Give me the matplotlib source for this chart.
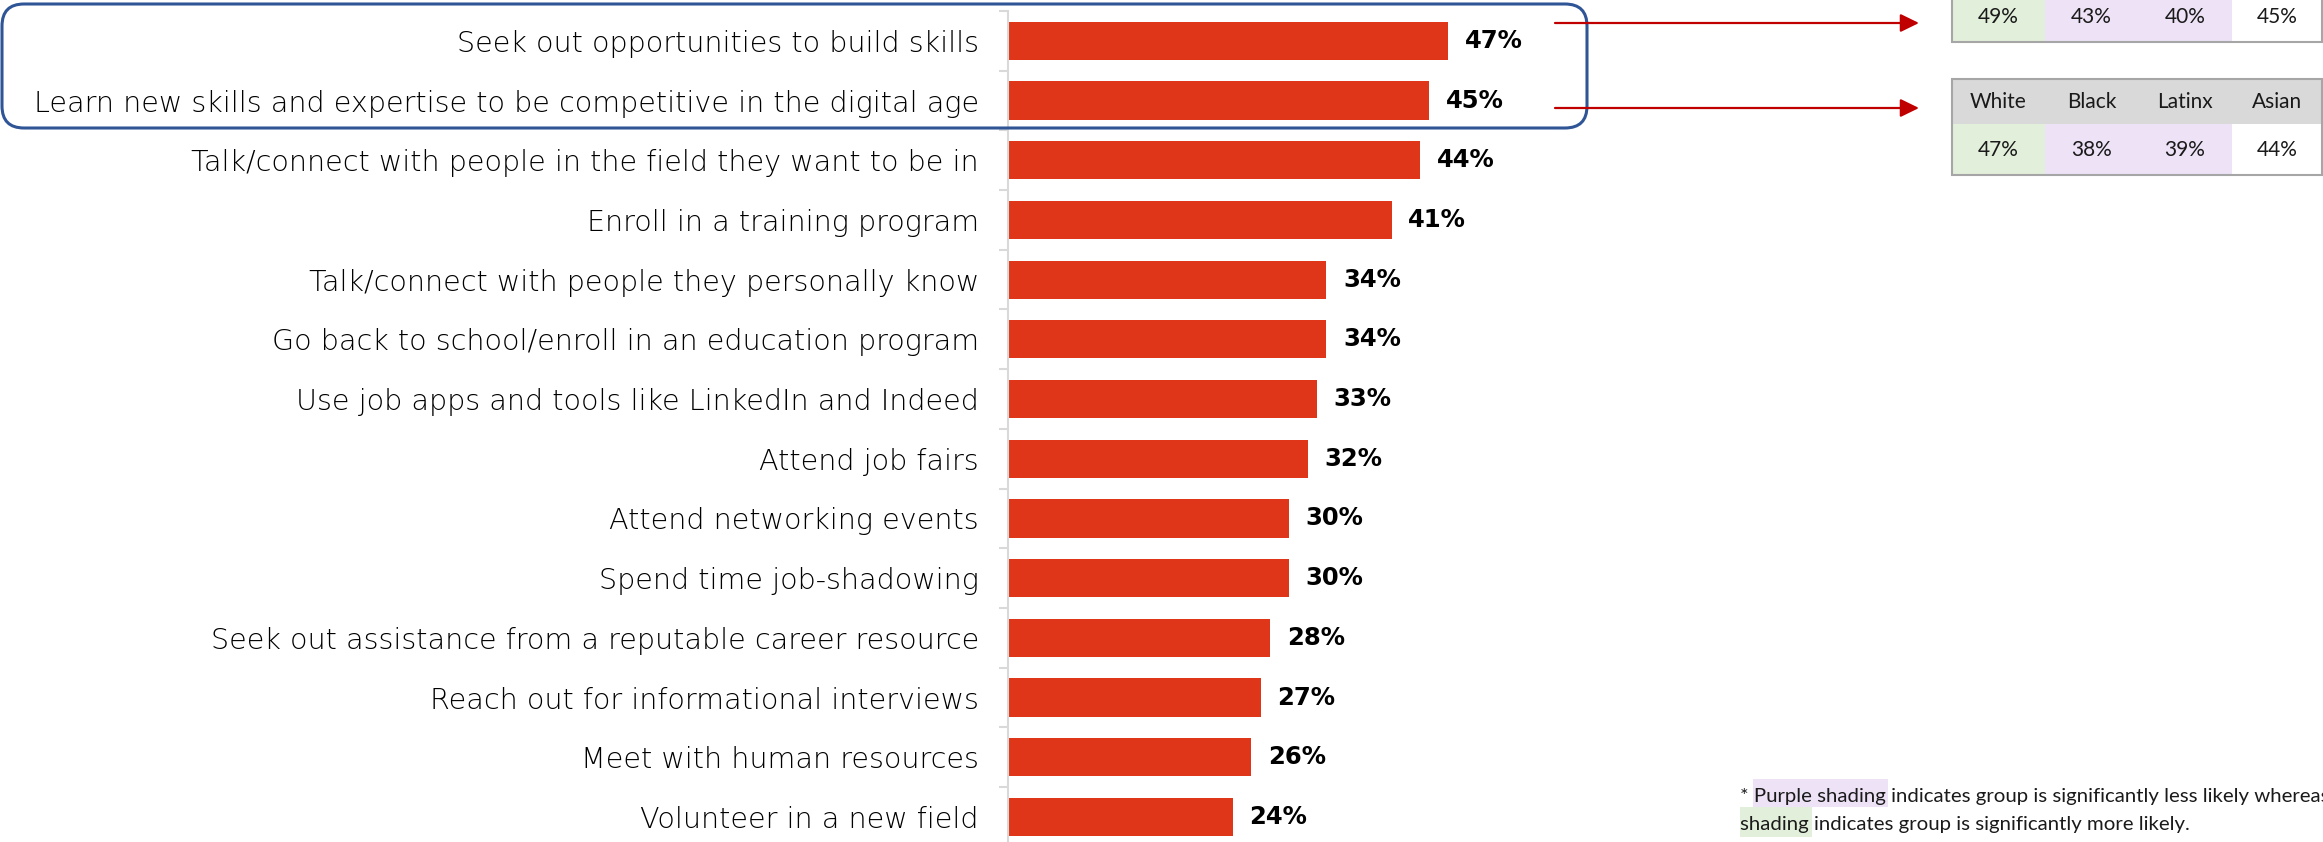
import matplotlib
matplotlib.use("Agg")
import matplotlib.pyplot as plt
from matplotlib.patches import FancyBboxPatch, Rectangle

# ---- data ----
actions = [
    "Seek out opportunities to build skills",
    "Learn new skills and expertise to be competitive in the digital age",
    "Talk/connect with people in the field they want to be in",
    "Enroll in a training program",
    "Talk/connect with people they personally know",
    "Go back to school/enroll in an education program",
    "Use job apps and tools like LinkedIn and Indeed",
    "Attend job fairs",
    "Attend networking events",
    "Spend time job-shadowing",
    "Seek out assistance from a reputable career resource",
    "Reach out for informational interviews",
    "Meet with human resources",
    "Volunteer in a new field",
]
shares = [47, 45, 44, 41, 34, 34, 33, 32, 30, 30, 28, 27, 26, 24]

groups = ["White", "Black", "Latinx", "Asian"]
skills_by_group = [49, 43, 40, 45]
digital_by_group = [47, 38, 39, 44]
group_signif = ["more", "less", "less", "none"]

# ---- style ----
BAR = "#DF361A"
AXIS_GRAY = "#D9D9D9"
TXT = "#1a1a1a"
SHADE = {"more": "#E2EFDA", "less": "#EDE2F6", "none": "#FFFFFF"}
HEAD = "#D9D9D9"
BORDER = "#A6A6A6"

W, H = 2323, 842
fig = plt.figure(figsize=(W / 100, H / 100), dpi=100)

# bar chart axes
ax = fig.add_axes([1008 / W, 0, 468 / W, 831 / H])
y = list(range(len(actions)))
ax.barh(y, shares, height=0.64, color=BAR, zorder=2)
ax.set_xlim(0, 50)
ax.set_ylim(13.42, -0.5)
ax.set_yticks(y)
ax.set_yticklabels(actions, fontsize=20.6, family="DejaVu Sans", fontweight="light",
                   color="#000000")
ax.set_yticks([i - 0.5 for i in range(len(actions))], minor=True)
ax.tick_params(axis="y", which="major", length=0, pad=21)
ax.tick_params(axis="y", which="minor", length=6.5, width=1.5, color=AXIS_GRAY, direction="out")
ax.set_xticks([])
for s in ["top", "right", "bottom"]:
    ax.spines[s].set_visible(False)
ax.spines["left"].set_color(AXIS_GRAY)
ax.spines["left"].set_linewidth(1.5)
ax.patch.set_alpha(0)

for yi, v in zip(y, shares):
    ax.annotate(f"{v}%", xy=(v, yi), xytext=(12, 0), textcoords="offset points",
                ha="left", va="center", fontsize=17.5, family="DejaVu Sans",
                fontweight="bold", color="black", annotation_clip=False)

# overlay in pixel coordinates for callouts, tables and footnote
ov = fig.add_axes([0, 0, 1, 1], zorder=5)
ov.set_xlim(0, W)
ov.set_ylim(H, 0)
ov.axis("off")
ov.patch.set_alpha(0)

box = FancyBboxPatch((2, 4), 1585, 124, boxstyle="round,pad=0,rounding_size=22",
                     fill=False, edgecolor="#2F5597", lw=2.2, zorder=3)
ov.add_patch(box)

for ya in (23, 108):
    ov.annotate("", xy=(1919, ya), xytext=(1555, ya),
                arrowprops=dict(arrowstyle="-|>,head_length=0.45,head_width=0.22",
                                color="#C00000", lw=1.6, mutation_scale=25,
                                shrinkA=0, shrinkB=0), zorder=4)

# tables
col_x = [1952, 2045, 2138, 2232, 2322]

def value_row(top, bottom, vals):
    for i, (v, sig) in enumerate(zip(vals, group_signif)):
        ov.add_patch(Rectangle((col_x[i], top), col_x[i + 1] - col_x[i], bottom - top,
                               facecolor=SHADE[sig], edgecolor="none", zorder=2))
        ov.text((col_x[i] + col_x[i + 1]) / 2, (top + bottom) / 2 + 1, f"{v}%",
                ha="center", va="center", fontsize=15, family="Lato", color=TXT, zorder=3)

# first table (value row only visible)
value_row(-10, 42, skills_by_group)
ov.plot([col_x[0], col_x[0], col_x[-1], col_x[-1]], [-10, 42, 42, -10],
        color=BORDER, lw=1.5, zorder=4, solid_joinstyle="miter")

# second table with header
t_top, t_mid, t_bot = 79, 124, 175
ov.add_patch(Rectangle((col_x[0], t_top), col_x[-1] - col_x[0], t_mid - t_top,
                       facecolor=HEAD, edgecolor="none", zorder=2))
for i, g in enumerate(groups):
    ov.text((col_x[i] + col_x[i + 1]) / 2, (t_top + t_mid) / 2 + 1, g,
            ha="center", va="center", fontsize=15, family="Lato", color=TXT, zorder=3)
value_row(t_mid, t_bot, digital_by_group)
ov.add_patch(Rectangle((col_x[0], t_top), col_x[-1] - col_x[0], t_bot - t_top,
                       fill=False, edgecolor=BORDER, lw=1.5, zorder=4))

# footnote with highlighted phrases
fn_kw = dict(fontsize=14.7, family="Lato", color=TXT, va="baseline", ha="left", zorder=3)
fig.canvas.draw()
rend = fig.canvas.get_renderer()

def text_w(s):
    t = ov.text(0, 0, s, **fn_kw)
    w = t.get_window_extent(rend).width
    t.remove()
    return w

x0 = 1740
line1 = "* Purple shading indicates group is significantly less likely whereas"
line2 = "shading indicates group is significantly more likely."
p_end = x0 + text_w("* Purple shading")
p_start = p_end - text_w("Purple shading")
ov.add_patch(Rectangle((p_start - 1, 779), p_end - p_start + 3, 28,
                       facecolor=SHADE["less"], edgecolor="none", zorder=2))
g_end = x0 + text_w("shading")
ov.add_patch(Rectangle((x0, 807), g_end - x0 + 3, 30,
                       facecolor=SHADE["more"], edgecolor="none", zorder=2))
ov.text(x0, 802, line1, **fn_kw)
ov.text(x0, 830, line2, **fn_kw)

fig.savefig("out.png", dpi=100)
